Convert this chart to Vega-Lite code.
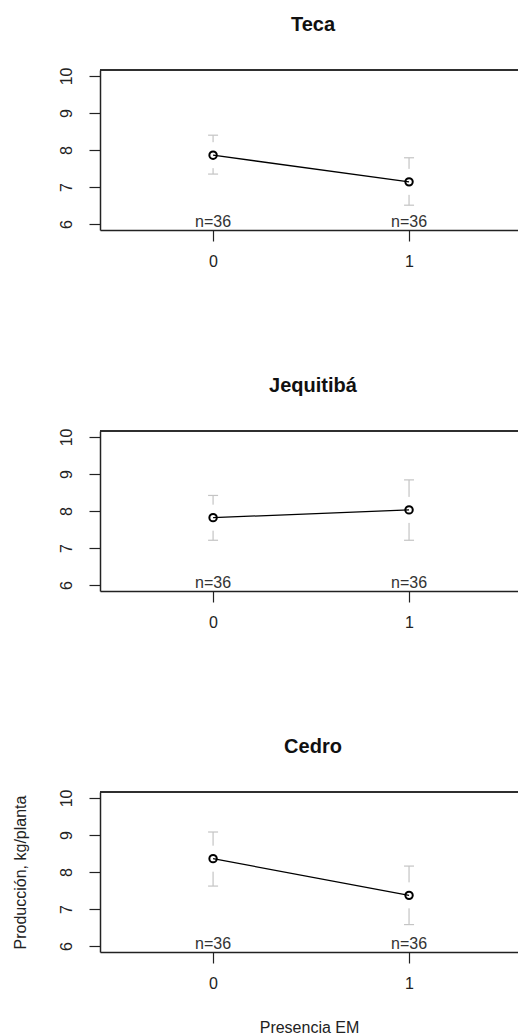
{
  "$schema": "https://vega.github.io/schema/vega-lite/v6.json",
  "padding": {"left": 12, "top": 15, "right": 0, "bottom": 0},
  "background": "white",
  "bounds": "flush",
  "spacing": 201,
  "config": {
    "font": "Liberation Sans",
    "view": {"stroke": null},
    "axis": {
      "labelFont": "Liberation Sans", "titleFont": "Liberation Sans", "grid": false, "labelOverlap": false,
      "domainColor": "#222", "domainWidth": 1.5, "tickColor": "#222", "tickWidth": 1.2, "tickSize": 11,
      "labelColor": "#222", "labelFontSize": 16, "titleFontSize": 16, "titleFontWeight": "normal", "titleColor": "#222"
    },
    "axisY": {"tickCount": 5, "labelAngle": -90, "labelAlign": "center", "labelBaseline": "bottom", "labelPadding": 15},
    "title": {"font": "Liberation Sans", "fontSize": 20, "fontWeight": "bold", "color": "#111", "offset": 32, "dx": 4}
  },
  "data": {"values": [
    {"especie": "Teca", "em": 0, "mean": 7.86, "lower": 7.35, "upper": 8.40, "nlabel": "n=36"},
    {"especie": "Teca", "em": 1, "mean": 7.14, "lower": 6.51, "upper": 7.79, "nlabel": "n=36"},
    {"especie": "Jequitibá", "em": 0, "mean": 7.82, "lower": 7.21, "upper": 8.42, "nlabel": "n=36"},
    {"especie": "Jequitibá", "em": 1, "mean": 8.03, "lower": 7.21, "upper": 8.84, "nlabel": "n=36"},
    {"especie": "Cedro", "em": 0, "mean": 8.36, "lower": 7.62, "upper": 9.08, "nlabel": "n=36"},
    {"especie": "Cedro", "em": 1, "mean": 7.37, "lower": 6.58, "upper": 8.16, "nlabel": "n=36"}
  ]},
  "vconcat": [
    {
      "title": "Teca",
      "width": 418, "height": 160,
      "transform": [{"filter": "datum.especie === 'Teca'"}],
      "layer": [
        {"mark": {"type": "rule", "color": "#c4c4c4", "strokeWidth": 1.2}, "encoding": {"x": {"field": "em", "type": "quantitative", "scale": {"domain": [-0.577, 1.556], "nice": false, "zero": false}, "axis": {"values": [0, 1], "format": "d", "title": null, "labelOverlap": false, "labelPadding": 12}}, "y": {"field": "lower", "type": "quantitative", "scale": {"domain": [5.84, 10.16], "nice": false, "zero": false}, "axis": {"values": [6, 7, 8, 9, 10], "title": null, "labelOverlap": false}}, "y2": {"field": "upper"}}},
        {"mark": {"type": "rule", "color": "#222", "strokeWidth": 1.5}, "encoding": {"y": {"datum": 10.16, "type": "quantitative"}}},
        {"mark": {"type": "tick", "orient": "horizontal", "color": "#c4c4c4", "size": 10, "thickness": 1.2, "opacity": 1}, "encoding": {"x": {"field": "em", "type": "quantitative"}, "y": {"field": "upper", "type": "quantitative"}}},
        {"mark": {"type": "tick", "orient": "horizontal", "color": "#c4c4c4", "size": 10, "thickness": 1.2, "opacity": 1}, "encoding": {"x": {"field": "em", "type": "quantitative"}, "y": {"field": "lower", "type": "quantitative"}}},
        {"mark": {"type": "tick", "orient": "vertical", "color": "white", "size": 26, "thickness": 4, "opacity": 1}, "encoding": {"x": {"field": "em", "type": "quantitative"}, "y": {"field": "mean", "type": "quantitative"}}},
        {"mark": {"type": "line", "color": "black", "strokeWidth": 1.3}, "encoding": {"x": {"field": "em", "type": "quantitative"}, "y": {"field": "mean", "type": "quantitative"}}},
        {"mark": {"type": "point", "filled": false, "color": "black", "strokeWidth": 2, "size": 55, "opacity": 1}, "encoding": {"x": {"field": "em", "type": "quantitative"}, "y": {"field": "mean", "type": "quantitative"}}},
        {"mark": {"type": "text", "fontSize": 16, "color": "#333", "baseline": "alphabetic", "dy": -3}, "encoding": {"x": {"field": "em", "type": "quantitative"}, "y": {"datum": 5.84, "type": "quantitative"}, "text": {"field": "nlabel"}}}
      ]
    },
    {
      "title": "Jequitibá",
      "width": 418, "height": 160,
      "transform": [{"filter": "datum.especie === 'Jequitibá'"}],
      "layer": [
        {"mark": {"type": "rule", "color": "#c4c4c4", "strokeWidth": 1.2}, "encoding": {"x": {"field": "em", "type": "quantitative", "scale": {"domain": [-0.577, 1.556], "nice": false, "zero": false}, "axis": {"values": [0, 1], "format": "d", "title": null, "labelOverlap": false, "labelPadding": 12}}, "y": {"field": "lower", "type": "quantitative", "scale": {"domain": [5.84, 10.16], "nice": false, "zero": false}, "axis": {"values": [6, 7, 8, 9, 10], "title": null, "labelOverlap": false}}, "y2": {"field": "upper"}}},
        {"mark": {"type": "rule", "color": "#222", "strokeWidth": 1.5}, "encoding": {"y": {"datum": 10.16, "type": "quantitative"}}},
        {"mark": {"type": "tick", "orient": "horizontal", "color": "#c4c4c4", "size": 10, "thickness": 1.2, "opacity": 1}, "encoding": {"x": {"field": "em", "type": "quantitative"}, "y": {"field": "upper", "type": "quantitative"}}},
        {"mark": {"type": "tick", "orient": "horizontal", "color": "#c4c4c4", "size": 10, "thickness": 1.2, "opacity": 1}, "encoding": {"x": {"field": "em", "type": "quantitative"}, "y": {"field": "lower", "type": "quantitative"}}},
        {"mark": {"type": "tick", "orient": "vertical", "color": "white", "size": 26, "thickness": 4, "opacity": 1}, "encoding": {"x": {"field": "em", "type": "quantitative"}, "y": {"field": "mean", "type": "quantitative"}}},
        {"mark": {"type": "line", "color": "black", "strokeWidth": 1.3}, "encoding": {"x": {"field": "em", "type": "quantitative"}, "y": {"field": "mean", "type": "quantitative"}}},
        {"mark": {"type": "point", "filled": false, "color": "black", "strokeWidth": 2, "size": 55, "opacity": 1}, "encoding": {"x": {"field": "em", "type": "quantitative"}, "y": {"field": "mean", "type": "quantitative"}}},
        {"mark": {"type": "text", "fontSize": 16, "color": "#333", "baseline": "alphabetic", "dy": -3}, "encoding": {"x": {"field": "em", "type": "quantitative"}, "y": {"datum": 5.84, "type": "quantitative"}, "text": {"field": "nlabel"}}}
      ]
    },
    {
      "title": "Cedro",
      "width": 418, "height": 160,
      "transform": [{"filter": "datum.especie === 'Cedro'"}],
      "layer": [
        {"mark": {"type": "rule", "color": "#c4c4c4", "strokeWidth": 1.2}, "encoding": {"x": {"field": "em", "type": "quantitative", "scale": {"domain": [-0.577, 1.556], "nice": false, "zero": false}, "axis": {"values": [0, 1], "format": "d", "title": "Presencia EM", "labelOverlap": false, "labelPadding": 12, "titlePadding": 28}}, "y": {"field": "lower", "type": "quantitative", "scale": {"domain": [5.84, 10.16], "nice": false, "zero": false}, "axis": {"values": [6, 7, 8, 9, 10], "title": "Producción, kg/planta", "titlePadding": 30, "labelOverlap": false}}, "y2": {"field": "upper"}}},
        {"mark": {"type": "rule", "color": "#222", "strokeWidth": 1.5}, "encoding": {"y": {"datum": 10.16, "type": "quantitative"}}},
        {"mark": {"type": "tick", "orient": "horizontal", "color": "#c4c4c4", "size": 10, "thickness": 1.2, "opacity": 1}, "encoding": {"x": {"field": "em", "type": "quantitative"}, "y": {"field": "upper", "type": "quantitative"}}},
        {"mark": {"type": "tick", "orient": "horizontal", "color": "#c4c4c4", "size": 10, "thickness": 1.2, "opacity": 1}, "encoding": {"x": {"field": "em", "type": "quantitative"}, "y": {"field": "lower", "type": "quantitative"}}},
        {"mark": {"type": "tick", "orient": "vertical", "color": "white", "size": 26, "thickness": 4, "opacity": 1}, "encoding": {"x": {"field": "em", "type": "quantitative"}, "y": {"field": "mean", "type": "quantitative"}}},
        {"mark": {"type": "line", "color": "black", "strokeWidth": 1.3}, "encoding": {"x": {"field": "em", "type": "quantitative"}, "y": {"field": "mean", "type": "quantitative"}}},
        {"mark": {"type": "point", "filled": false, "color": "black", "strokeWidth": 2, "size": 55, "opacity": 1}, "encoding": {"x": {"field": "em", "type": "quantitative"}, "y": {"field": "mean", "type": "quantitative"}}},
        {"mark": {"type": "text", "fontSize": 16, "color": "#333", "baseline": "alphabetic", "dy": -3}, "encoding": {"x": {"field": "em", "type": "quantitative"}, "y": {"datum": 5.84, "type": "quantitative"}, "text": {"field": "nlabel"}}}
      ]
    }
  ]
}
